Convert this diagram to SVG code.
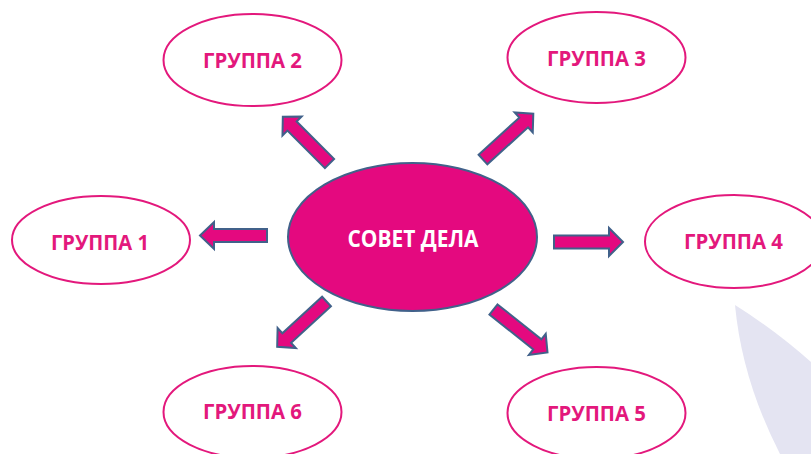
<svg xmlns="http://www.w3.org/2000/svg" width="811" height="454" viewBox="0 0 811 454">
<style>
.grp{fill:#ffffff;stroke:#e3187c;stroke-width:2}
.gtx{font-family:"Open Sans","Liberation Sans",sans-serif;font-weight:700;font-size:21px;fill:#e3187c;text-anchor:middle}
.ctr{fill:#e4097f;stroke:#41618a;stroke-width:2}
.ctx{font-family:"Open Sans","Liberation Sans",sans-serif;font-weight:700;font-size:23px;fill:#ffffff;text-anchor:middle}
.arr{fill:#e4097f;stroke:#41618a;stroke-width:2;stroke-linejoin:miter}
</style>
<rect width="811" height="454" fill="#ffffff"/>
<path d="M735,305 Q775,330 811,362 L811,454 L780,454 Q742,380 735,305 Z" fill="#e4e4f2"/>
<g id="connectors">
<polygon class="arr" transform="translate(267,235.5) rotate(180)" points="0,-6.5 53,-6.5 53,-13.5 67,0 53,13.5 53,6.5 0,6.5"/>
<polygon class="arr" transform="translate(554,242) rotate(0)" points="0,-6.5 55,-6.5 55,-14 69,0 55,14 55,6.5 0,6.5"/>
<polygon class="arr" transform="translate(329.5,163.5) rotate(-135)" points="0,-6.5 53,-6.5 53,-13.5 66,0 53,13.5 53,6.5 0,6.5"/>
<polygon class="arr" transform="translate(483,159.5) rotate(-42.3)" points="0,-6.5 55,-6.5 55,-13.5 68,0 55,13.5 55,6.5 0,6.5"/>
<polygon class="arr" transform="translate(326.5,301.5) rotate(137.4)" points="0,-6.5 54,-6.5 54,-13.5 67,0 54,13.5 54,6.5 0,6.5"/>
<polygon class="arr" transform="translate(493.5,309.5) rotate(38.5)" points="0,-6.5 56,-6.5 56,-13.5 69,0 56,13.5 56,6.5 0,6.5"/>
</g>
<g id="center">
<ellipse class="ctr" cx="412.5" cy="237" rx="124.5" ry="74"/>
<text class="ctx" x="413" y="247" textLength="131" lengthAdjust="spacingAndGlyphs">СОВЕТ ДЕЛА</text>
</g>
<g id="group1">
<ellipse class="grp" cx="101" cy="240" rx="89" ry="44"/>
<text class="gtx" x="100" y="250" textLength="98" lengthAdjust="spacingAndGlyphs">ГРУППА 1</text>
</g>
<g id="group2">
<ellipse class="grp" cx="252.5" cy="60" rx="89" ry="46"/>
<text class="gtx" x="252.5" y="68" textLength="99" lengthAdjust="spacingAndGlyphs">ГРУППА 2</text>
</g>
<g id="group3">
<ellipse class="grp" cx="596.5" cy="57.5" rx="89" ry="45.5"/>
<text class="gtx" x="596.5" y="66" textLength="99" lengthAdjust="spacingAndGlyphs">ГРУППА 3</text>
</g>
<g id="group4">
<ellipse class="grp" cx="734" cy="241.5" rx="89" ry="46.5"/>
<text class="gtx" x="733.5" y="249" textLength="99" lengthAdjust="spacingAndGlyphs">ГРУППА 4</text>
</g>
<g id="group5">
<ellipse class="grp" cx="596.5" cy="413" rx="89" ry="46"/>
<text class="gtx" x="596.5" y="421" textLength="99" lengthAdjust="spacingAndGlyphs">ГРУППА 5</text>
</g>
<g id="group6">
<ellipse class="grp" cx="252.5" cy="412" rx="89" ry="46"/>
<text class="gtx" x="252.5" y="419" textLength="99" lengthAdjust="spacingAndGlyphs">ГРУППА 6</text>
</g>
</svg>
